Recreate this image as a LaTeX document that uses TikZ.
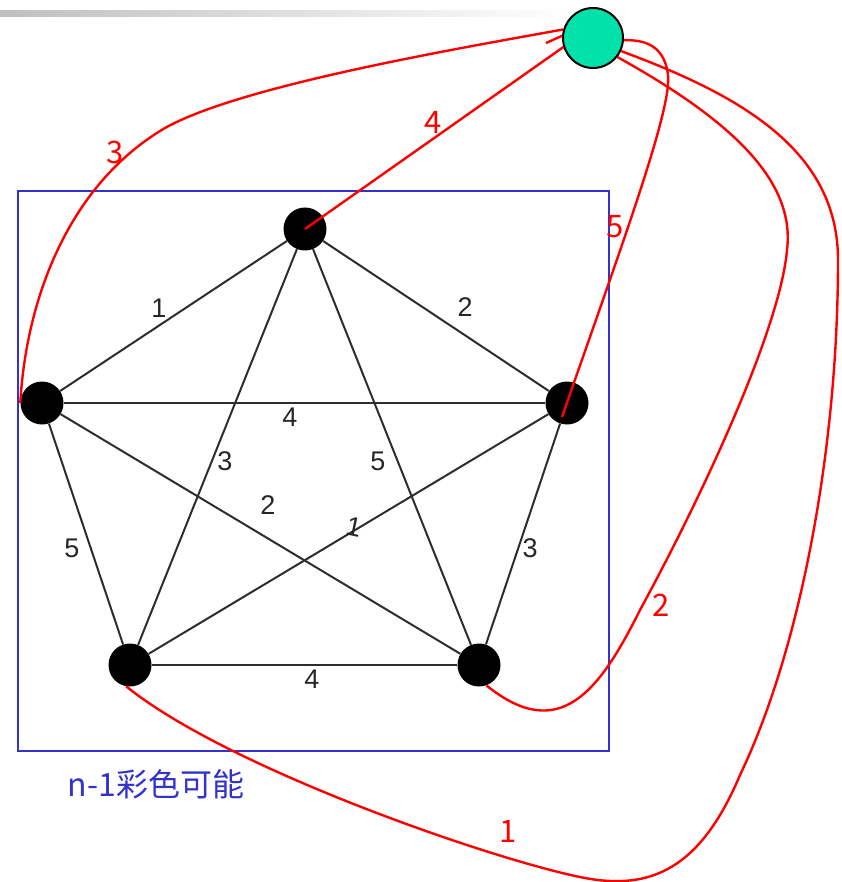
\documentclass[tikz,border=0pt]{standalone}
\usepackage{fontspec}
\setmainfont{Liberation Sans}
\newfontfamily\cjk{Noto Sans CJK SC}
\usetikzlibrary{calc}
\definecolor{grn}{RGB}{0,226,170}
\definecolor{bluebox}{RGB}{51,51,204}
\definecolor{edgegray}{RGB}{45,45,45}
\begin{document}
\begin{tikzpicture}[x=1pt,y=-1pt,
  vtx/.style={circle, fill=black, minimum size=43pt, inner sep=0pt},
  gnode/.style={circle, fill=grn, draw=black, line width=2pt, minimum size=60pt, inner sep=0pt},
  kedge/.style={draw=edgegray, line width=2pt},
  klab/.style={font=\fontsize{27}{29}\selectfont, text=black!85, inner sep=0pt},
  redge/.style={draw=red, line width=2.4pt},
  rlab/.style={font=\cjk\fontsize{31}{33}\selectfont, text=red, inner sep=0pt},
  boxlab/.style={font=\cjk\fontsize{32}{34}\selectfont, text=bluebox, inner sep=0pt}
]
\useasboundingbox (0,0) rectangle (841,882);
% top gradient bar
\shade[left color=black!25, right color=white] (0,11) rectangle (570,17);
% blue frame
\draw[bluebox, line width=2pt] (18,191) rectangle (609,751);
\node[boxlab] (cap) at (156,784) {n-1彩色可能};

% K5 vertices
\node[vtx] (t)  at (305,229) {};
\node[vtx] (l)  at (42,403) {};
\node[vtx] (r)  at (567,403) {};
\node[vtx] (bl) at (130,665) {};
\node[vtx] (br) at (479,665) {};

% K5 edges
\draw[kedge] (t) -- (l);
\draw[kedge] (t) -- (r);
\draw[kedge] (t) -- (bl);
\draw[kedge] (t) -- (br);
\draw[kedge] (l) -- (r);
\draw[kedge] (l) -- (bl);
\draw[kedge] (l) -- (br);
\draw[kedge] (r) -- (bl);
\draw[kedge] (r) -- (br);
\draw[kedge] (bl) -- (br);

% K5 edge labels
\node[klab] (e1) at (159,308) {1};
\node[klab] (e2) at (465,307) {2};
\node[klab] (e3) at (290,417) {4};
\node[klab] (e4) at (225,461) {3};
\node[klab] (e5) at (378,461) {5};
\node[klab] (e6) at (268,505) {2};
\node[klab, rotate=-12] (e7) at (354,527) {1};
\node[klab] (e8) at (72,548) {5};
\node[klab] (e9) at (530,548) {3};
\node[klab] (e10) at (312,679) {4};

% new vertex
\node[gnode] (g) at (593,38) {};
\coordinate (stub) at (546,43);

% red connectors
\draw[redge] (t.center) -- (g.197);
\draw[redge] (stub) -- (g.176);
\draw[redge] (l.west) .. controls (26,300) and (68,185) .. (165,128)
  .. controls (240,86) and (450,50) .. (g.164);
\draw[redge] ([shift={(-5,14)}]r.center) .. controls (620,250) and (672,110) .. (668,75)
  .. controls (664,42) and (640,40) .. (g.-4);
\draw[redge] (g.-38) .. controls (740,125) and (795,185) .. (787,250)
  .. controls (780,330) and (700,500) .. (640,610)
  .. controls (600,690) and (560,745) .. (br.-70);
\draw[redge] (g.-25) .. controls (740,95) and (838,150) .. (838,260)
  .. controls (838,450) and (800,650) .. (740,775)
  .. controls (700,870) and (650,890) .. (585,878)
  .. controls (500,862) and (230,770) .. (bl.-100);

% red labels
\node[rlab] (r4) at (433,122) {4};
\node[rlab] (r3) at (115,152) {3};
\node[rlab] (r5) at (615,227) {5};
\node[rlab] (r2) at (661,605) {2};
\node[rlab] (r1) at (508,831) {1};
\end{tikzpicture}
\end{document}
